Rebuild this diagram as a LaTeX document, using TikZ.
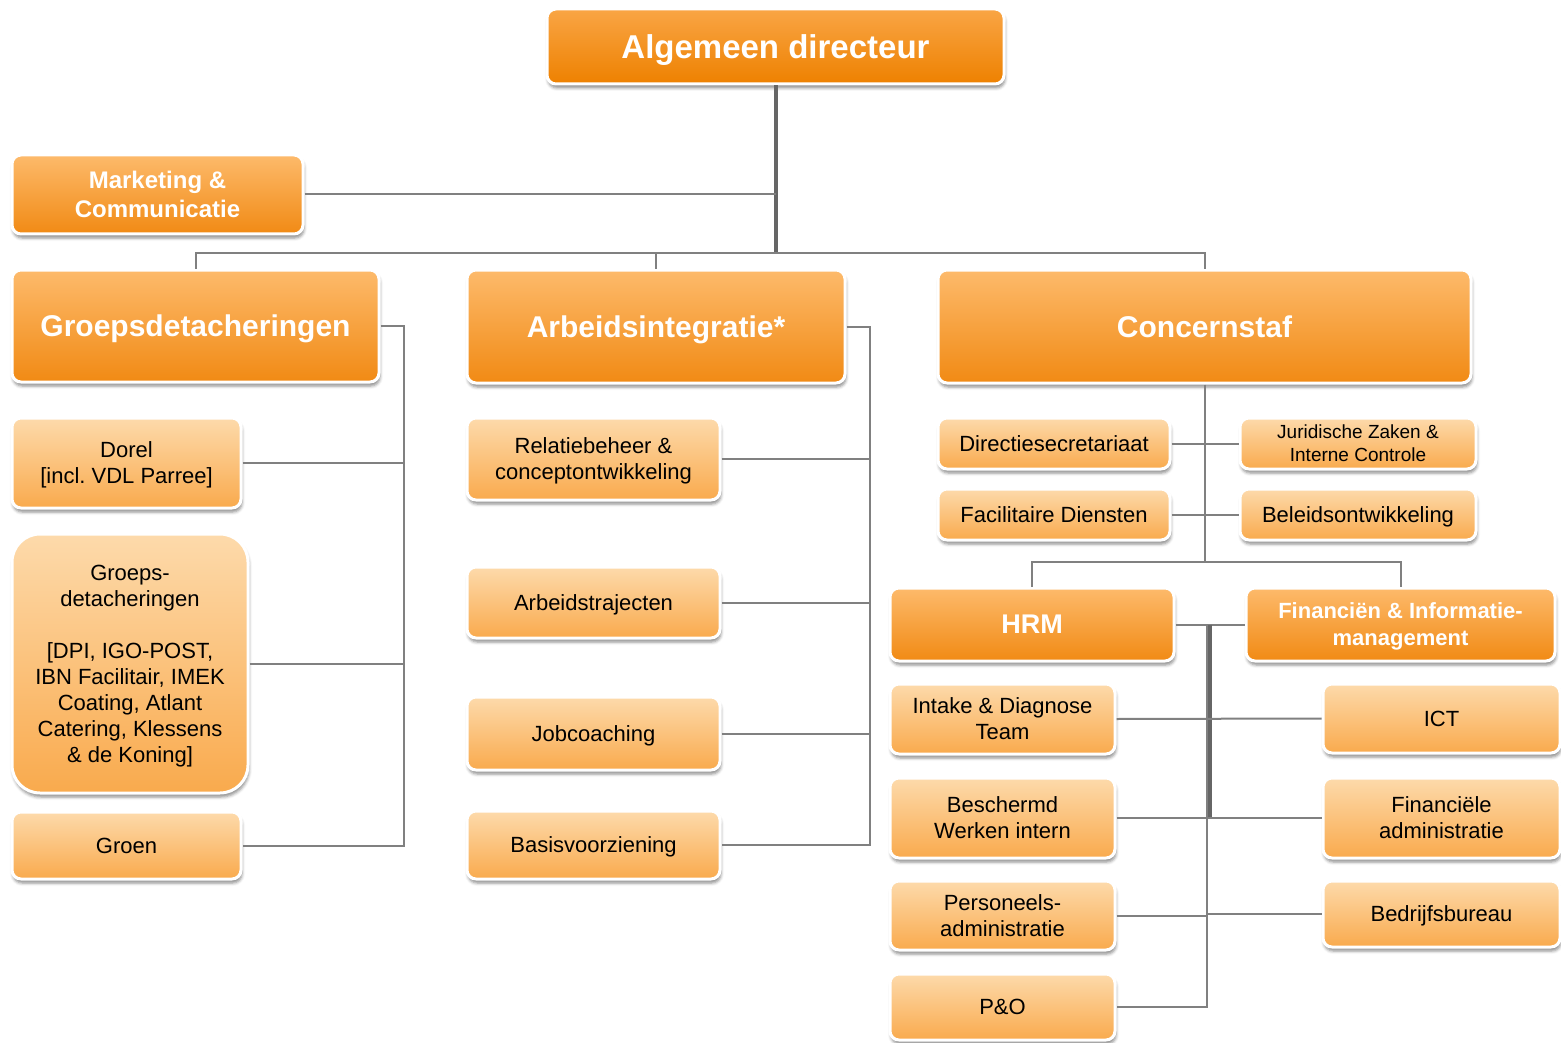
\documentclass[tikz,border=0pt]{standalone}
\usepackage{fontspec}
\setmainfont{Liberation Sans}
\usetikzlibrary{shadows.blur}
\definecolor{litetop}{HTML}{FDDAAB}
\definecolor{litebot}{HTML}{F9AA4D}
\definecolor{midtop}{HTML}{FDBA6B}
\definecolor{midbot}{HTML}{F18A14}
\definecolor{toptop}{HTML}{F9A545}
\definecolor{topbot}{HTML}{EE8100}
\definecolor{linegray}{HTML}{808080}
\tikzset{
 orgbox/.style={rounded corners=9pt,draw=white,line width=3pt,top color=litetop,bottom color=litebot,
  align=center,inner sep=0pt,text depth=0pt,text=black,font=\fontsize{22}{26}\selectfont,
  blur shadow={shadow xshift=1pt,shadow yshift=-4pt,shadow blur radius=3pt,shadow opacity=45}},
 headbox/.style={orgbox,top color=midtop,bottom color=midbot,text=white},
 wh/.style 2 args={minimum width=#1pt,minimum height=#2pt},
 link/.style={draw=linegray,line width=2pt},
 trunk/.style={draw=black!60,line width=4pt},
}
\begin{document}
\begin{tikzpicture}[x=1pt,y=-1pt]
\useasboundingbox(0,0)rectangle(1561,1043);
%top
\node[headbox,top color=toptop,bottom color=topbot,wh={457}{75},font=\fontsize{33}{38}\selectfont\bfseries](dir)at(775.5,46.5){Algemeen directeur};
\node[headbox,wh={291}{79},font=\fontsize{24}{29}\selectfont\bfseries](mark)at(157.5,194.5){Marketing \&\\Communicatie};
\node[headbox,wh={367}{112},font=\fontsize{30}{34}\selectfont\bfseries](grp)at(195.5,326){Groepsdetacheringen};
\node[headbox,wh={378}{113},font=\fontsize{30}{34}\selectfont\bfseries](arb)at(656,326.5){Arbeidsintegratie*};
\node[headbox,wh={533}{113},font=\fontsize{30}{34}\selectfont\bfseries](con)at(1204.5,326.5){Concernstaf};
%groepsdetacheringen
\node[orgbox,wh={229}{90}](dorel)at(126.5,463){Dorel\\{[}incl.\ VDL Parree]};
\node[orgbox,wh={236}{259},rounded corners=28pt](gdet)at(130,663.5){Groeps-\\detacheringen\\[26pt]{[}DPI, IGO-POST,\\IBN Facilitair, IMEK\\Coating, Atlant\\Catering, Klessens\\\& de Koning]};
\node[orgbox,wh={229}{67}](groen)at(126.5,845.5){Groen};
%arbeidsintegratie
\node[orgbox,wh={253}{82}](rel)at(593.5,459){Relatiebeheer \&\\conceptontwikkeling};
\node[orgbox,wh={253}{71}](traj)at(593.5,602.5){Arbeidstrajecten};
\node[orgbox,wh={253}{73}](job)at(593.5,733.5){Jobcoaching};
\node[orgbox,wh={253}{68}](basis)at(593.5,845){Basisvoorziening};
%concernstaf
\node[orgbox,wh={232}{51}](dsec)at(1054,443.5){Directiesecretariaat};
\node[orgbox,wh={232}{51}](fac)at(1054,514.5){Facilitaire Diensten};
\node[orgbox,wh={236}{51},font=\fontsize{19}{23}\selectfont](jur)at(1358,443.5){Juridische Zaken \&\\Interne Controle};
\node[orgbox,wh={236}{51}](bel)at(1358,514.5){Beleidsontwikkeling};
\node[headbox,wh={284}{73},font=\fontsize{27}{31}\selectfont\bfseries](hrm)at(1032,624.5){HRM};
\node[headbox,wh={309}{73},font=\fontsize{22}{27}\selectfont\bfseries](fin)at(1400.5,624.5){Financiën \& Informatie-\\management};
%hrm
\node[orgbox,wh={225}{70}](intake)at(1002.5,719){Intake \& Diagnose\\Team};
\node[orgbox,wh={225}{80}](besch)at(1002.5,818){Beschermd\\Werken intern};
\node[orgbox,wh={225}{69}](pers)at(1002.5,915.5){Personeels-\\administratie};
\node[orgbox,wh={225}{66}](peno)at(1002.5,1007){P\&O};
%financien
\node[orgbox,wh={237}{69}](ict)at(1441.5,718.5){ICT};
\node[orgbox,wh={237}{80}](fadm)at(1441.5,818){Financiële\\administratie};
\node[orgbox,wh={237}{66}](bedr)at(1441.5,914){Bedrijfsbureau};
%lines
\coordinate(bus)at(0,253);
\coordinate(gbus)at(404,0);
\coordinate(abus)at(870,0);
\coordinate(hbus)at(0,562);
\coordinate(fbus)at(1210,0);
\coordinate(pbus)at(1207,0);
\draw[trunk](dir.south)--(dir.south|-bus);
\draw[link](mark.east)--(dir.south|-mark.east);
\draw[link](grp.north)--(grp.north|-bus)--(con.north|-bus)--(con.north);
\draw[link](arb.north)--(arb.north|-bus);
%
\draw[link](grp.east)--(grp.east-|gbus)--(groen.east-|gbus)--(groen.east);
\draw[link](dorel.east)--(dorel.east-|gbus);
\draw[link](gdet.east)--(gdet.east-|gbus);
%
\draw[link](arb.east)--(arb.east-|abus)--(basis.east-|abus)--(basis.east);
\draw[link](rel.east)--(rel.east-|abus);
\draw[link](traj.east)--(traj.east-|abus);
\draw[link](job.east)--(job.east-|abus);
%
\draw[link](con.south)--(con.south|-hbus);
\draw[link](hrm.north)--(hrm.north|-hbus)--(fin.north|-hbus)--(fin.north);
\draw[link](dsec.east)--(jur.west);
\draw[link](fac.east)--(bel.west);
%
\draw[link](hrm.east)--(fin.west);
\draw[link](hrm.east-|pbus)--(peno.east-|pbus)--(peno.east);
\draw[trunk](hrm.east-|fbus)--(fadm.west-|fbus);
\draw[link](intake.east)--(ict.west);
\draw[link](besch.east)--(fadm.west);
\draw[link](pers.east)--(pers.east-|pbus);
\draw[link](bedr.west)--(bedr.west-|pbus);
\end{tikzpicture}
\end{document}
